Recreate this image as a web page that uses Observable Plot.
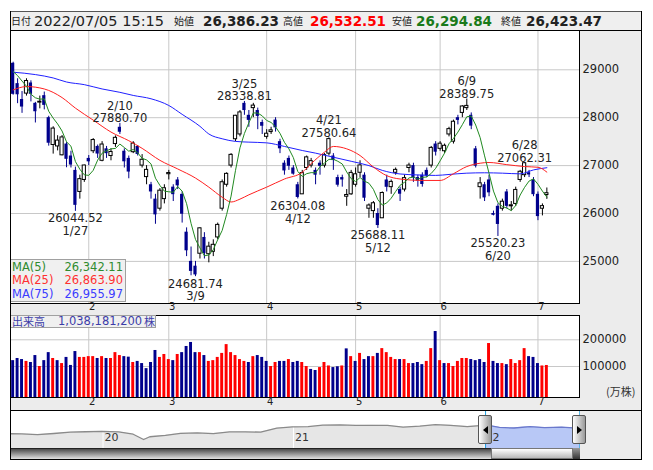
<!DOCTYPE html>
<html><head><meta charset="utf-8">
<script src="https://cdn.jsdelivr.net/npm/d3@7"></script>
<script src="https://cdn.jsdelivr.net/npm/@observablehq/plot@0.6"></script>
<style>
html,body{margin:0;padding:0;background:#fff;}
#root{position:relative;width:653px;height:470px;overflow:hidden;font-family:"DejaVu Sans",sans-serif;color:#222;}
</style></head><body><div id="root"></div>
<script>
// ---------------- DATA ----------------
const dates = ["1/6","1/7","1/11","1/12","1/13","1/14","1/17","1/18","1/19","1/20","1/21","1/24","1/25","1/26","1/27","1/28","1/31",
"2/1","2/2","2/3","2/4","2/7","2/8","2/9","2/10","2/14","2/15","2/16","2/17","2/18","2/21","2/22","2/24","2/25","2/28",
"3/1","3/2","3/3","3/4","3/7","3/8","3/9","3/10","3/11","3/14","3/15","3/16","3/17","3/18","3/22","3/23","3/24","3/25","3/28","3/29","3/30","3/31",
"4/1","4/4","4/5","4/6","4/7","4/8","4/11","4/12","4/13","4/14","4/15","4/18","4/19","4/20","4/21","4/22","4/25","4/26","4/27","4/28",
"5/2","5/6","5/9","5/10","5/11","5/12","5/13","5/16","5/17","5/18","5/19","5/20","5/23","5/24","5/25","5/26","5/27","5/30","5/31",
"6/1","6/2","6/3","6/6","6/7","6/8","6/9","6/10","6/13","6/14","6/15","6/16","6/17","6/20","6/21","6/22","6/23","6/24","6/27","6/28","6/29","6/30",
"7/1","7/4","7/5"];
const opens = [29136,28711,28380,28503,28725,28300,28315,28460,28000,27430,27400,27215,27450,27200,26900,26450,26700,
27150,27300,27400,27100,27350,27200,27450,27800,27300,27150,27280,27400,27000,26760,26600,26300,26100,26300,
26820,26550,26700,26400,25610,25000,24900,25160,25500,25150,25200,25500,26100,26600,27000,27550,27650,28300,28050,28200,28150,27900,
27600,27700,27950,27500,27050,27150,26950,26600,26400,26950,27000,26900,27050,27000,27250,27200,26750,26750,26350,26400,
26600,26850,26800,26100,26050,26000,25900,26700,26550,26850,26500,26500,26950,27000,26750,26800,26900,27000,27450,
27350,27300,27650,27500,28000,28100,28200,28050,27350,26550,26600,26700,26000,26150,26100,26450,26150,26200,26700,26800,26850,26700,
26400,26100,26386.23];
const highs = [29158,28813,28546,28813,28770,28320,28451,28535,28030,27811,27624,27627,27480,27300,26968,26800,27010,
27210,27564,27430,27500,27400,27350,27620,27880.70,27350,27200,27500,27420,27230,27000,26650,26400,26520,26600,
26900,26600,26750,26450,25700,25300,25000,25700,25600,25400,25450,25800,26700,26850,27250,28050,28150,28338.81,28150,28300,28200,27950,
27750,27800,28000,27550,27100,27200,27000,26650,26900,27200,27150,26950,27100,27250,27580.64,27250,26800,26800,26500,26900,
26950,27100,26850,26200,26250,26100,26450,26800,26700,26950,26550,26800,27050,27050,26800,26850,26950,27400,27500,
27500,27450,27800,27950,28050,28250,28389.75,28100,27400,26750,26650,26800,26050,26200,26300,26500,26250,26550,26900,27062.31,26900,26750,
26450,26200,26532.51];
const lows = [28470,28293,28091,28451,28330,27890,28185,28163,27406,27240,27307,27203,26955,26950,26044.52,26300,26650,
27000,27250,27150,27080,27150,27100,27380,27650,26950,26725,27250,27200,26950,26600,26300,25775,26050,26200,
26700,26250,26500,25800,25100,24700,24681.74,25050,25050,24970,25100,25450,26050,26550,26950,27500,27600,28050,27800,28000,27750,27650,
27550,27650,27700,27250,26800,26900,26800,26304.08,26400,26900,26950,26600,26800,26950,27200,26900,26550,26550,26150,26380,
26550,26750,26250,25900,25900,25688.11,25900,26450,26400,26800,26250,26450,26850,26650,26550,26550,26750,26950,27200,
27300,27250,27600,27450,27850,28000,28150,27750,26950,26300,26250,26350,25950,25520.23,26050,26100,26050,26150,26650,26750,26750,26350,
25850,25950,26294.84];
const closes = [28487.87,28478.56,28222.48,28765.66,28489.13,28124.28,28333.52,28257.25,27467.23,27772.93,27522.26,27588.37,27131.34,27011.33,26170.30,26717.34,27001.98,
27078.48,27533.60,27241.31,27439.99,27248.87,27284.52,27579.87,27696.08,27079.59,26865.19,27460.40,27232.87,27122.07,26910.87,26449.61,25970.82,26476.50,26526.82,
26844.72,26393.03,26577.27,25985.47,25221.41,24790.95,24717.53,25690.40,25162.78,25307.85,25346.48,25762.01,26652.89,26827.43,27224.11,28040.16,28110.39,28149.84,27943.89,28252.42,28027.25,27821.43,
27665.98,27736.47,27787.98,27350.30,26888.57,26985.80,26821.52,26334.98,26843.49,27172.00,27093.19,26799.71,26985.09,27217.85,27553.06,27105.26,26590.78,26700.11,26386.63,26847.90,
26818.53,27003.56,26319.34,26167.10,26213.64,25748.72,26427.65,26547.05,26659.75,26911.20,26402.84,26739.03,27001.52,26748.14,26677.80,26604.84,26781.68,27369.43,27279.80,
27457.89,27413.88,27761.57,27915.89,27943.95,28234.29,28246.53,27824.29,26987.44,26629.86,26326.16,26431.20,25963.00,25771.22,26246.31,26149.55,26171.25,26491.97,26871.27,27049.47,26804.60,26393.04,
25935.62,26153.81,26423.47];
// closes of the 4 sessions before 1/6 (12/29, 12/30, 1/4, 1/5)
const priorCloses = [28906.88,28791.71,29301.79,29332.16];
// volume (万株)
const volumes = [122000,130000,126000,119000,115000,141000,100000,122000,152000,130000,122000,111000,134000,104000,156000,134000,134000,
137000,137000,130000,137000,130000,130000,152000,141000,137000,135000,115000,119000,111000,92000,115000,160000,134000,145000,
126000,122000,145000,152000,175000,190000,152000,152000,141000,119000,122000,134000,149000,182000,152000,141000,126000,119000,115000,137000,141000,134000,
119000,100000,115000,119000,119000,126000,115000,119000,115000,100000,89000,85000,96000,115000,102000,96000,99000,102000,166000,137000,
119000,149000,126000,137000,137000,149000,167000,152000,134000,126000,126000,126000,111000,111000,115000,107000,119000,167000,231000,
122000,111000,111000,100000,119000,130000,130000,126000,122000,126000,115000,186000,119000,111000,111000,107000,126000,111000,122000,167000,137000,134000,
111000,102000,103818];
// moving averages
const ma25Dates = ["1/6","1/12","1/18","1/24","1/27","2/2","2/8","2/15","2/18","2/25","3/3","3/9","3/14","3/17","3/22","3/24","3/28","4/1","4/7","4/13","4/15","4/20","4/22","4/27","5/6","5/11","5/16","5/19","5/26","6/1","6/6","6/9","6/14","6/16","6/22","6/28","7/1","7/5"];
const ma25Vals = [28580,28650,28600,28420,28200,27950,27700,27520,27360,27110,26930,26740,26550,26340,26240,26300,26390,26550,26720,26860,27040,27280,27400,27350,27210,26970,26790,26720,26690,26690,26830,26980,27050,27065,27020,26980,26965,26863.90];
const ma75Dates = ["1/6","1/14","1/20","1/25","1/31","2/4","2/10","2/16","2/22","3/1","3/4","3/10","3/14","3/17","3/23","3/28","4/1","4/7","4/13","4/18","4/22","4/28","5/10","5/13","5/19","5/25","5/31","6/3","6/9","6/15","6/21","6/27","6/30","7/5"];
const ma75Vals = [28950,28900,28830,28745,28690,28600,28530,28465,28395,28255,28070,27820,27660,27560,27505,27490,27475,27400,27315,27260,27175,27090,27000,26900,26825,26805,26795,26815,26842,26850,26842,26828,26910,26955.97];
const monthStarts = ["2/1","3/1","4/1","5/2","6/1","7/1"];
const monthLabels = ["2","3","4","5","6","7"];
const priceTicks = [25000,26000,27000,28000,29000];
const volTicks = [100000,200000];
const annDates = ["1/27","2/10","3/9","3/25","4/12","4/21","5/12","6/9","6/20","6/28"];
const annKinds = ["low","high","low","high","low","high","low","high","low","high"];
// long-term navigator series (month-end closes)
const navDates = ["2019-07-10","2019-07-31","2019-08-30","2019-09-30","2019-10-31","2019-11-29","2019-12-30","2020-01-31","2020-02-28","2020-03-19","2020-03-31","2020-04-30","2020-05-29","2020-06-30","2020-07-31","2020-08-31","2020-09-30","2020-10-30","2020-11-30","2020-12-30","2021-01-29","2021-02-26","2021-03-31","2021-04-30","2021-05-31","2021-06-30","2021-07-30","2021-08-31","2021-09-30","2021-10-29","2021-11-30","2021-12-30","2022-01-04","2022-01-31","2022-02-28","2022-03-31","2022-04-28","2022-05-31","2022-06-30","2022-07-05"];
const navValues = [21533,21521,20704,21756,22927,23294,23657,23205,21143,16553,18917,20194,21878,22288,21710,23140,23185,22977,26434,27444,27663,28966,29179,28813,28860,28792,27284,28090,29453,28893,27822,28792,29302,27002,26527,27821,26848,27280,26393,26423];
const navYears = ["2020-01-01","2021-01-01","2022-01-01"];
const navYearLabels = ["20","21","22"];
const navSelection = ["2022-01-04","2022-07-05"];
const header = {date:"2022/07/05 15:15", open:"26,386.23", high:"26,532.51", low:"26,294.84", close:"26,423.47"};
const volumeTotal = "1,038,181,200";

// ---------------- HELPERS ----------------
const root = document.getElementById("root");
function box(l,t,w,h,css){const d=document.createElement("div");Object.assign(d.style,{position:"absolute",left:l+"px",top:t+"px",width:w+"px",height:h+"px"},css||{});root.appendChild(d);return d;}
function put(node,l,t){node.style.position="absolute";node.style.left=l+"px";node.style.top=t+"px";root.appendChild(node);return node;}
const idx = d => dates.indexOf(d);
const BLUE = "#00008c", RED = "#ff0000";
const FONT = "DejaVu Sans";

const rows = dates.map((d,i)=>({i, d, o:opens[i], h:highs[i], l:lows[i], c:closes[i], up: closes[i] >= opens[i]}));
const allCloses = priorCloses.concat(closes);
const ma5 = rows.map(r => ({i:r.i, v: d3.mean(allCloses.slice(r.i, r.i+5))}));
const ma25 = ma25Dates.map((d,k)=>({i: idx(d), v: ma25Vals[k]}));
const ma75 = ma75Dates.map((d,k)=>({i: idx(d), v: ma75Vals[k]}));
const volRows = rows.map((r)=>({i:r.i, v: volumes[r.i], up: allCloses[r.i+4] >= allCloses[r.i+3]}));
const months = monthStarts.map((d,k)=>({i: idx(d), label: monthLabels[k]}));
const anns = annDates.map((d,k)=>{const i=idx(d); const hi=annKinds[k]==="high"; const v = hi? highs[i]: lows[i];
  return {i, v, hi, text: hi ? `${d}\n${v.toFixed(2)}` : `${v.toFixed(2)}\n${d}`};});

const X_DOMAIN = [-0.5947, 127.34];

// ---------------- HEADER ----------------
box(10,11,632,19,{background:"#efefef",boxSizing:"border-box",borderTop:"1px solid #555",borderLeft:"1px solid #555",borderRight:"1px solid #555"});
function htext(txt,x,css){const s=document.createElement("div");s.textContent=txt;Object.assign(s.style,{position:"absolute",left:x+"px",top:"12px",height:"18px",lineHeight:"18px",whiteSpace:"nowrap"},css);root.appendChild(s);}
const jpLab = {fontFamily:"Noto Sans CJK JP",fontSize:"10px",color:"#222"};
const num = {fontFamily:FONT,fontSize:"13.5px",fontWeight:"bold",color:"#222"};
htext("日付",11,jpLab);
htext(header.date,34,{fontFamily:FONT,fontSize:"14.5px",color:"#222"});
htext("始値",174,jpLab); htext(header.open,203,num);
htext("高値",283,jpLab); htext(header.high,310,Object.assign({},num,{color:"#ff0000"}));
htext("安値",392,jpLab); htext(header.low,416,Object.assign({},num,{color:"#1a7a1a"}));
htext("終値",501,jpLab); htext(header.close,526,num);

// ---------------- PRICE PANEL ----------------
const priceMarks = [
  Plot.frame({fill:"white"}),
  Plot.gridY(priceTicks,{stroke:"#c8c8c8",strokeOpacity:1}),
  Plot.gridX(months.map(m=>m.i),{stroke:"#c8c8c8",strokeOpacity:1}),
  Plot.ruleX(rows,{x:"i",y1:"l",y2:"h",stroke:d=>d.up?"#000":BLUE}),
  Plot.rect(rows,{x1:d=>d.i-0.36,x2:d=>d.i+0.36,y1:"o",y2:"c",fill:d=>d.up?"white":BLUE,stroke:d=>d.up?"#000":"none",strokeWidth:1}),
  Plot.line(ma75,{x:"i",y:"v",stroke:"#2020ff",strokeWidth:1,curve:"monotone-x"}),
  Plot.line(ma25,{x:"i",y:"v",stroke:"#ff2020",strokeWidth:1,curve:"monotone-x"}),
  Plot.line(ma5,{x:"i",y:"v",stroke:"#218a21",strokeWidth:1}),
  Plot.text(anns.filter(a=>a.hi),{x:"i",y:"v",text:"text",lineAnchor:"bottom",dy:-1,fontSize:11.5,lineHeight:1.1,fill:"#222"}),
  Plot.text(anns.filter(a=>!a.hi),{x:"i",y:"v",text:"text",lineAnchor:"top",dy:2,fontSize:11.5,lineHeight:1.1,fill:"#222"}),
  Plot.frame({stroke:"#000"}),
  Plot.text(priceTicks,{y:d=>d,text:d=>String(d),frameAnchor:"right",dx:3,textAnchor:"start",fontSize:11.5,fill:"#222"}),
  Plot.text(months,{x:"i",text:"label",frameAnchor:"bottom",dy:6.5,dx:3.5,fontSize:10,fill:"#222"})
];
const price = Plot.plot({
  width:632,height:285,marginLeft:0,marginRight:63,marginTop:0,marginBottom:12,
  style:{background:"#ececec",fontFamily:FONT,fontSize:"11.5px",color:"#222"},
  x:{type:"linear",domain:X_DOMAIN,axis:null},
  y:{domain:[24121,29820.5],axis:null},
  marks:priceMarks
});
put(price,10,30);

// MA legend
const leg = box(10,259,116,43,{background:"#f0f0f0",boxSizing:"border-box",border:"1px solid #a0a0a0",fontFamily:FONT,fontSize:"11.5px"});
[["MA(5)",ma5[ma5.length-1].v,"#2e8b2e"],["MA(25)",ma25Vals[ma25Vals.length-1],"#ff3030"],["MA(75)",ma75Vals[ma75Vals.length-1],"#3b3bff"]].forEach((r,k)=>{
  const a=document.createElement("div");a.textContent=r[0];Object.assign(a.style,{position:"absolute",left:"1px",top:(1+k*13.3)+"px",color:r[2],lineHeight:"13px"});leg.appendChild(a);
  const b=document.createElement("div");b.textContent=d3.format(",.2f")(r[1]);Object.assign(b.style,{position:"absolute",right:"2px",top:(1+k*13.3)+"px",color:r[2],lineHeight:"13px"});leg.appendChild(b);
});

// ---------------- VOLUME PANEL ----------------
const VOL_DOMAIN = [-16100,291000];
const vol = Plot.plot({
  width:632,height:95,marginLeft:0,marginRight:63,marginTop:0,marginBottom:13,
  style:{background:"#ececec",fontFamily:FONT,fontSize:"11.5px",color:"#222"},
  x:{type:"linear",domain:X_DOMAIN,axis:null},
  y:{domain:VOL_DOMAIN,axis:null},
  marks:[
    Plot.frame({fill:"white"}),
    Plot.gridY(volTicks,{stroke:"#c8c8c8",strokeOpacity:1}),
    Plot.gridX(months.map(m=>m.i),{stroke:"#c8c8c8",strokeOpacity:1}),
    Plot.rect(volRows,{x1:d=>d.i-0.33,x2:d=>d.i+0.33,y1:VOL_DOMAIN[0],y2:"v",fill:d=>d.up?RED:BLUE}),
    Plot.frame({stroke:"#000"}),
    Plot.text(volTicks,{y:d=>d,text:d=>String(d),frameAnchor:"right",dx:3,textAnchor:"start",fontSize:11.5,fill:"#222"}),
    Plot.text(months,{x:"i",text:"label",frameAnchor:"bottom",dy:7,dx:3.5,fontSize:10,fill:"#222"})
  ]
});
put(vol,10,315);
box(10,315,146,13,{background:"#f0f0f0",boxSizing:"border-box",border:"1px solid #a0a0a0"});
htext("出来高",12,{top:"314px",height:"14px",lineHeight:"14px",fontFamily:"Noto Sans CJK JP",fontSize:"11px",color:"#3c3ca8"});
htext(volumeTotal,58,{top:"314px",height:"14px",lineHeight:"14px",fontFamily:FONT,fontSize:"11.5px",color:"#3c3ca8"});
htext("株",144,{top:"314px",height:"14px",lineHeight:"14px",fontFamily:"Noto Sans CJK JP",fontSize:"11px",color:"#3c3ca8"});
htext("(万株)",606,{top:"383px",height:"16px",lineHeight:"16px",fontFamily:"Noto Sans CJK JP",fontSize:"11px",color:"#333"});

// ---------------- NAVIGATOR ----------------
const T = s => Date.parse(s+"T00:00:00Z");
const navRows = navDates.map((d,k)=>({t:T(d), v:navValues[k]}));
const selStart = T(navSelection[0]), selEnd = T(navSelection[1]);
const NAV_Y = [8717,41760];
const nav = Plot.plot({
  width:632,height:38,marginLeft:0,marginRight:63,marginTop:0,marginBottom:0,
  style:{background:"#ececec",fontFamily:FONT,fontSize:"11px",color:"#333"},
  x:{type:"linear",domain:[T("2019-07-10"),T("2020-01-01"),T("2021-01-01"),T("2022-01-01"),T("2022-07-05")],range:[0,92.5,283,473.5,569.3],axis:null},
  y:{domain:NAV_Y,axis:null},
  marks:[
    Plot.frame({fill:"white"}),
    Plot.areaY(navRows,{x:"t",y1:NAV_Y[0],y2:"v",fill:"#e6e6e6"}),
    Plot.ruleX(navYears.map(T),{stroke:"white"}),
    Plot.areaY(navRows.filter(r=>r.t>=selStart),{x:"t",y1:NAV_Y[0],y2:"v",fill:"#b8c8f6"}),
    Plot.line(navRows.filter(r=>r.t<=selStart),{x:"t",y:"v",stroke:"#8a8a8a",strokeWidth:1.3}),
    Plot.line(navRows.filter(r=>r.t>=selStart),{x:"t",y:"v",stroke:"#6a78cc",strokeWidth:1.3}),
    Plot.text(navYears.map((d,k)=>({t:T(d),label:navYearLabels[k]})),{x:"t",text:"label",frameAnchor:"bottom",dy:-7.5,dx:1.5,textAnchor:"start",fill:"#333"}),
    Plot.ruleX([selStart,selEnd],{stroke:"#1ea0e0"})
  ]
});
put(nav,10,410);

// scrollbar & handles (decoration)
box(10,448,570,11,{background:"linear-gradient(to bottom,#4a4a4a,#e2e2e2)",boxSizing:"border-box",borderTop:"1px solid #222"});
box(491,448,82,11,{background:"linear-gradient(to bottom,#ffffff,#b8b8b8)",boxSizing:"border-box",border:"1px solid #777"});
box(573,448,7,11,{background:"linear-gradient(to bottom,#999,#333)"});
box(580,410,61,49,{background:"#ececec"});
function handle(l,dir){const h=box(l,415,14,29,{boxSizing:"border-box",border:"1px solid #555",borderRadius:"2px",background:"linear-gradient(to right,#ffffff,#9a9a9a)"});
  const tri=document.createElement("div");Object.assign(tri.style,{position:"absolute",top:"10px",left:"4px",width:"0",height:"0",borderTop:"4px solid transparent",borderBottom:"4px solid transparent"});
  if(dir<0)tri.style.borderRight="5px solid #000";else tri.style.borderLeft="5px solid #000";h.appendChild(tri);}
handle(478,-1); handle(572,1);
// outer frame lines
box(10,11,1,449,{background:"#000"});
box(641,11,1,449,{background:"#000"});
box(10,459,632,1,{background:"#000"});
box(10,30,632,1,{background:"#000"});
box(10,410,632,1,{background:"#000"});
</script></body></html>
